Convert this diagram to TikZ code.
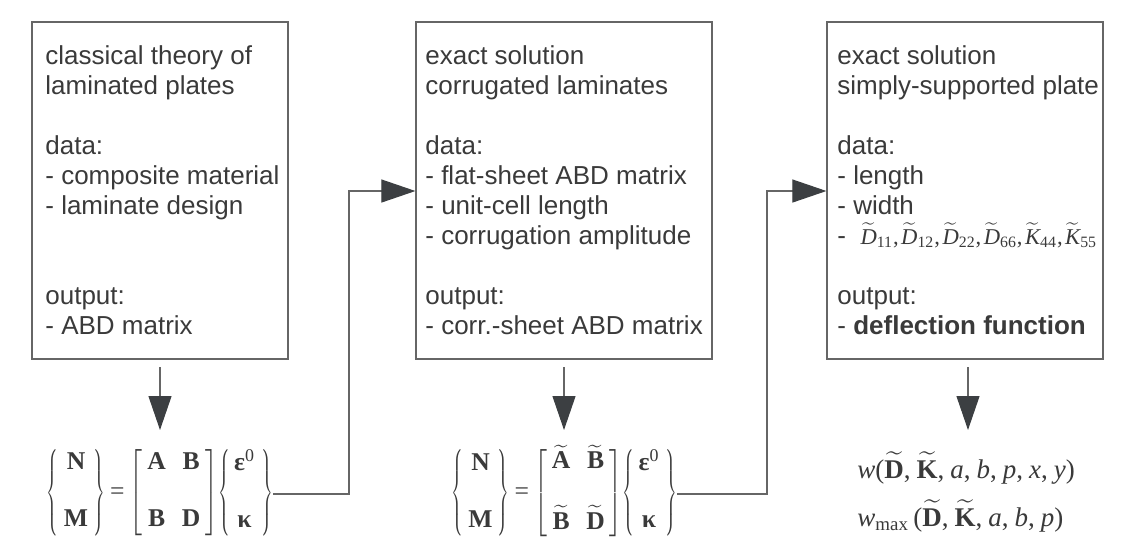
\RequirePackage{fix-cm}
\documentclass[tikz,border=0pt]{standalone}
\usepackage{amsmath}
\usepackage[no-math]{fontspec}
\setmainfont{Liberation Sans}
\newfontfamily\eqf{Liberation Serif}
\usetikzlibrary{arrows.meta}
\definecolor{txtc}{HTML}{3A3A3A}
\definecolor{linec}{HTML}{666666}
\definecolor{headc}{HTML}{3C3F42}
\newcommand\eqB[1]{\text{\bfseries #1}}
\newcommand\eqI[1]{\text{\itshape #1}}
\newcommand\cm{\text{,}\mkern4mu}
\newcommand\dcm{\text{,}\mkern2mu}
\newcommand\Dt[2]{\widetilde{\text{\itshape #1}}_{\text{#2}}}
\newcommand\dstrut{\vrule height 25pt depth 20pt width 0pt}
\newcommand\lbr{\scalebox{0.55}[1]{$\left\{\dstrut\right.$}}
\newcommand\rbr{\scalebox{0.55}[1]{$\left.\dstrut\right\}$}}
\newcommand\lsq{\scalebox{0.8}[1]{$\left[\dstrut\right.$}}
\newcommand\rsq{\scalebox{0.8}[1]{$\left.\dstrut\right]$}}
\newcommand\colv[2]{\begin{array}{@{}c@{}}#1\\[14pt]#2\end{array}}
\newcommand\matv[4]{\begin{array}{@{}c@{\hspace{8pt}}c@{}}#1&#2\\[14pt]#3&#4\end{array}}
\tikzset{
  box/.style={draw=linec, line width=0.6pt, inner sep=0pt, minimum height=168.5pt},
  txt/.style={anchor=base west, inner sep=0pt, text=txtc, font=\fontsize{13}{15}\selectfont},
  con/.style={draw=linec, line width=0.55pt, -{Triangle[length=17pt,width=11.5pt,color=headc]}},
  eq/.style={inner sep=0pt, text=txtc, font=\eqf\fontsize{12.8}{14.5}\selectfont},
  wf/.style={anchor=base west, inner sep=0pt, text=txtc, font=\eqf\fontsize{13.5}{15}\selectfont},
}
\begin{document}
\begin{tikzpicture}[x=0.5pt,y=-0.5pt]
\useasboundingbox (0,0) rectangle (1130,559);
% boxes
\node[box, minimum width=128pt] (b1) at (160,190.5) {};
\node[box, minimum width=148pt] (b2) at (564,190.5) {};
\node[box, minimum width=138pt] (b3) at (965,190.5) {};
% box texts
\node[txt] (t1) at (45,64) {\begin{tabular}[t]{@{}l@{}}classical theory of\\laminated plates\\ \\data:\\- composite material\\- laminate design\\ \\ \\output:\\- ABD matrix\end{tabular}};
\node[txt] (t2) at (425,64) {\begin{tabular}[t]{@{}l@{}}exact solution\\corrugated laminates\\ \\data:\\- flat-sheet ABD matrix\\- unit-cell length\\- corrugation amplitude\\ \\output:\\- corr.-sheet ABD matrix\end{tabular}};
\node[txt] (t3) at (837,64) {\begin{tabular}[t]{@{}l@{}}exact solution\\simply-supported plate\\ \\data:\\- length\\- width\\- \ {\eqf\fontsize{11.3}{15}\selectfont$\Dt{D}{11}\dcm\Dt{D}{12}\dcm\Dt{D}{22}\dcm\Dt{D}{66}\dcm\Dt{K}{44}\dcm\Dt{K}{55}$}\\ \\output:\\- \textbf{deflection function}\end{tabular}};
% equations
\node[eq] (e1) at (160,494) {$\lbr\hspace{2pt}\colv{\eqB{N}}{\eqB{M}}\hspace{2pt}\rbr\hspace{2.5pt}\text{=}\hspace{2.5pt}\lsq\hspace{1.5pt}\matv{\eqB{A}}{\eqB{B}}{\eqB{B}}{\eqB{D}}\hspace{1.5pt}\rsq\lbr\hspace{1.5pt}\colv{\eqB{ε}^{\text{0}}}{\eqB{κ}}\hspace{2.5pt}\rbr$};
\node[eq] (e2) at (564.5,494) {$\lbr\hspace{2pt}\colv{\eqB{N}}{\eqB{M}}\hspace{2pt}\rbr\hspace{2.5pt}\text{=}\hspace{2.5pt}\lsq\hspace{1.5pt}\matv{\smash{\widetilde{\eqB{A}}}}{\smash{\widetilde{\eqB{B}}}}{\widetilde{\eqB{B}}}{\widetilde{\eqB{D}}}\hspace{1.5pt}\rsq\lbr\hspace{1.5pt}\colv{\eqB{ε}^{\text{0}}}{\eqB{κ}}\hspace{2.5pt}\rbr$};
\node[wf] (w1) at (857,478) {$\eqI{w}\text{(}\widetilde{\eqB{D}}\cm\widetilde{\eqB{K}}\cm\eqI{a}\cm\eqI{b}\cm\eqI{p}\cm\eqI{x}\cm\eqI{y}\text{)}$};
\node[wf] (w2) at (857,526) {$\eqI{w}_{\text{max}}\mkern3mu\text{(}\widetilde{\eqB{D}}\cm\widetilde{\eqB{K}}\cm\eqI{a}\cm\eqI{b}\cm\eqI{p}\text{)}$};
% connectors
\coordinate (d1) at (160,367);
\coordinate (d1e) at (160,430);
\coordinate (d2) at (564,367);
\coordinate (d2e) at (564,430);
\coordinate (d3) at (968,367);
\coordinate (d3e) at (968,430);
\draw[con] (d1) -- (d1e);
\draw[con] (d2) -- (d2e);
\draw[con] (d3) -- (d3e);
\coordinate (h1) at (273,494);
\coordinate (h2) at (677,494);
\draw[con] (h1) -| (349,191) -- (b2.west |- 0,191);
\draw[con] (h2) -| (767,191) -- (b3.west |- 0,191);
\end{tikzpicture}
\end{document}
